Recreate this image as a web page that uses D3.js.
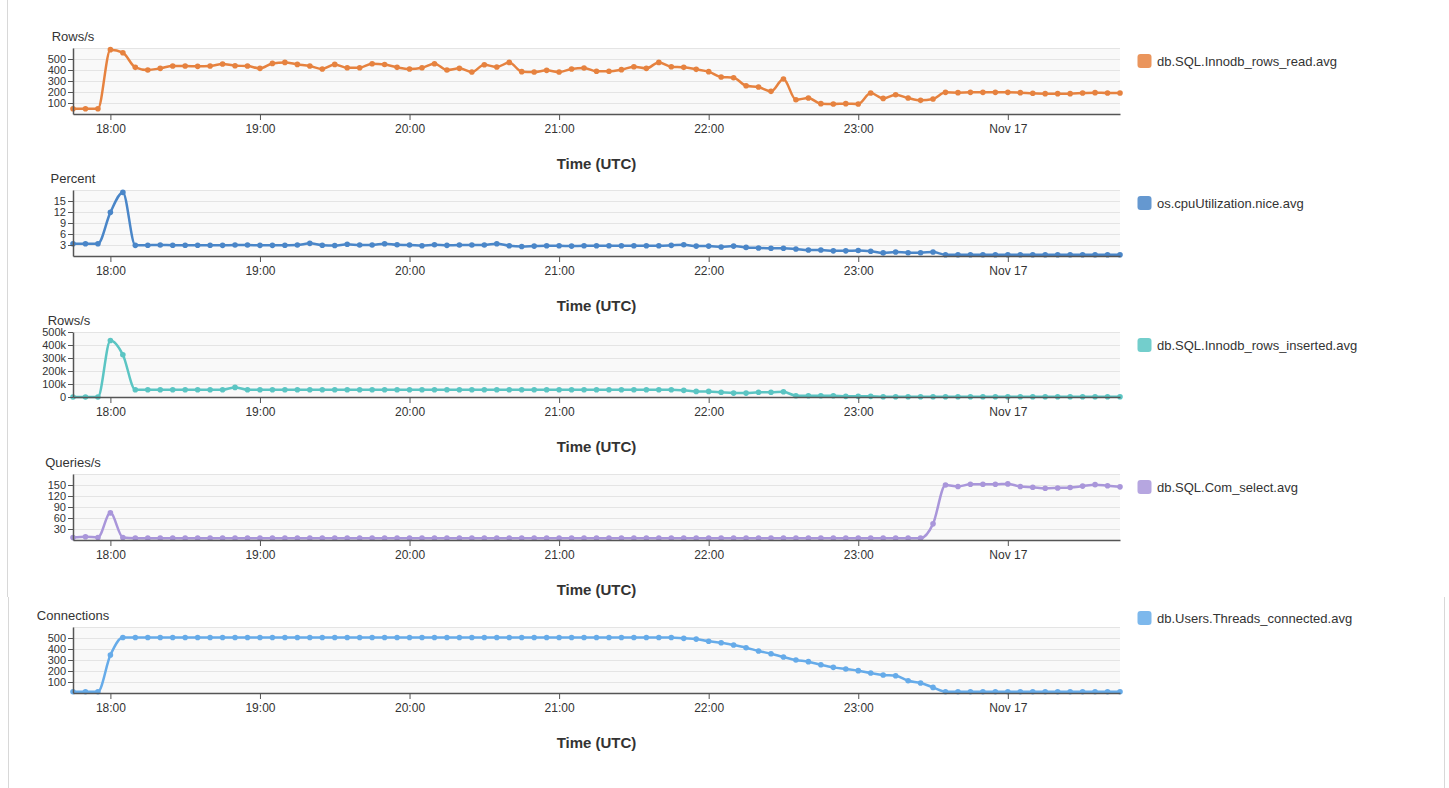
<!DOCTYPE html>
<html>
<head>
<meta charset="utf-8">
<script src="https://cdn.jsdelivr.net/npm/d3@7"></script>
<style>
  body { margin: 0; background: #fff; }
  svg { display: block; font-family: "Liberation Sans", Arial, Helvetica, sans-serif; }
  .tick text { fill: #333; font-size: 12px; }
  .y-axis .tick text { font-size: 11px; }
  .domain { stroke: #555; stroke-width: 1.5; }
  .tick line { stroke: #555; }
</style>
</head>
<body>
<svg width="1449" height="788"></svg>
<script>
// 5-minute samples, Nov 16 17:45 UTC .. Nov 17 00:45 UTC
const startTime = Date.UTC(2020, 10, 16, 17, 45)
const times = d3.range(85).map(i => new Date(startTime + i * 5 * 60 * 1000))

const rowsRead = [48, 48, 48, 585, 557, 424, 400, 415, 436, 436,
  433, 436, 455, 439, 436, 415, 460, 469, 451, 436,
  409, 451, 421, 421, 457, 450, 424, 409, 421, 457,
  400, 415, 382, 448, 427, 469, 385, 382, 397, 382,
  409, 418, 388, 388, 403, 430, 415, 469, 430, 424,
  406, 385, 336, 330, 257, 245, 206, 318, 130, 145,
  94, 91, 94, 91, 191, 142, 175, 145, 124, 136,
  197, 194, 197, 197, 197, 197, 194, 188, 185, 185,
  185, 191, 194, 191, 191]

const cpuNice = [3.35, 3.35, 3.35, 11.9, 17.35, 2.9, 2.95, 3.0, 2.95, 2.95,
  2.95, 2.95, 2.9, 3.0, 3.0, 2.9, 2.9, 2.95, 3.0, 3.45,
  2.95, 2.85, 3.2, 3.0, 3.0, 3.35, 3.05, 3.0, 2.8, 3.05,
  2.9, 3.0, 3.0, 3.0, 3.35, 2.8, 2.6, 2.7, 2.8, 2.8,
  2.7, 2.8, 2.8, 2.8, 2.8, 2.8, 2.8, 2.8, 2.9, 3.05,
  2.7, 2.7, 2.45, 2.7, 2.35, 2.2, 2.1, 2.1, 1.9, 1.65,
  1.65, 1.4, 1.4, 1.5, 1.3, 0.85, 1.1, 0.9, 0.9, 1.1,
  0.35, 0.35, 0.35, 0.35, 0.35, 0.35, 0.35, 0.35, 0.35, 0.35,
  0.35, 0.35, 0.35, 0.35, 0.35]

const rowsInserted = [0, 0, 0, 435000, 325000, 56000, 56000, 56000, 56000, 56000,
  56000, 56000, 56000, 74000, 56000, 56000, 56000, 56000, 56000, 56000,
  56000, 56000, 56000, 56000, 56000, 56000, 56000, 56000, 56000, 56000,
  56000, 56000, 56000, 56000, 56000, 56000, 56000, 56000, 56000, 56000,
  56000, 56000, 56000, 56000, 56000, 56000, 56000, 56000, 56000, 51000,
  43000, 43000, 36000, 30000, 30000, 36000, 36000, 40000, 10000, 10000,
  10000, 10000, 5000, 5000, 5000, 2000, 2000, 2000, 2000, 2000,
  2000, 2000, 2000, 2000, 2000, 2000, 2000, 2000, 2000, 2000,
  2000, 2000, 2000, 2000, 2000]

const comSelect = [7, 9, 7, 74, 7, 5, 5, 5, 5, 5,
  5, 5, 5, 5, 5, 5, 5, 5, 5, 5,
  5, 5, 5, 5, 5, 5, 5, 5, 5, 5,
  5, 5, 5, 5, 5, 5, 5, 5, 5, 5,
  5, 5, 5, 5, 5, 5, 5, 5, 5, 5,
  5, 5, 5, 5, 5, 5, 5, 5, 5, 5,
  5, 5, 5, 5, 5, 5, 5, 5, 5, 44,
  150, 146, 152, 152, 152, 153, 146, 144, 141, 142,
  143, 147, 151, 148, 145]

const threadsConnected = [12, 12, 12, 345, 505, 505, 505, 505, 505, 505,
  505, 505, 505, 505, 505, 505, 505, 505, 505, 505,
  505, 505, 505, 505, 505, 505, 505, 505, 505, 505,
  505, 505, 505, 505, 505, 505, 505, 505, 505, 505,
  505, 505, 505, 505, 505, 505, 505, 505, 505, 497,
  490, 470, 457, 436, 412, 382, 357, 327, 300, 285,
  257, 233, 218, 203, 182, 164, 157, 112, 91, 51,
  12, 12, 12, 12, 12, 12, 12, 12, 12, 12,
  12, 12, 12, 12, 12]

const seriesNames = ["db.SQL.Innodb_rows_read.avg", "os.cpuUtilization.nice.avg",
  "db.SQL.Innodb_rows_inserted.avg", "db.SQL.Com_select.avg", "db.Users.Threads_connected.avg"]
const unitLabels = ["Rows/s", "Percent", "Rows/s", "Queries/s", "Connections"]
const yMax = [600, 18, 500000, 180, 600]
const yTicks = [
  [100, 200, 300, 400, 500],
  [3, 6, 9, 12, 15],
  [0, 100000, 200000, 300000, 400000, 500000],
  [30, 60, 90, 120, 150],
  [100, 200, 300, 400, 500]
]
const colors = ["#e6823f", "#4a86c8", "#5bc5c3", "#a996da", "#66abe9"]
const allValues = [rowsRead, cpuNice, rowsInserted, comSelect, threadsConnected]

const svg = d3.select("svg")

// page card borders
svg.append("line").attr("x1", 7.5).attr("x2", 7.5).attr("y1", 0).attr("y2", 597)
  .attr("stroke", "#d8d8d8")
svg.append("line").attr("x1", 8.5).attr("x2", 8.5).attr("y1", 597).attr("y2", 788)
  .attr("stroke", "#d8d8d8")
svg.append("line").attr("x1", 1444.5).attr("x2", 1444.5).attr("y1", 597).attr("y2", 788)
  .attr("stroke", "#d8d8d8")

const plotLeft = 73, plotRight = 1120
const panelTop = [48, 190, 332, 474, 627]
const panelHeight = [66, 66, 65, 66, 66]
const legendY = [61, 203, 345, 487, 618]
const unitX = [73, 73, 69, 73, 73]

const x = d3.scaleUtc()
  .domain([times[0], times[times.length - 1]])
  .range([plotLeft, plotRight])

const fmtHour = d3.utcFormat("%H:%M")
const fmtDay = d3.utcFormat("%b %d")
const tickFmt = d => (d.getUTCHours() === 0 ? fmtDay(d) : fmtHour(d))

allValues.forEach(function(vals, k) {
  const top = panelTop[k], h = panelHeight[k]
  const y = d3.scaleLinear().domain([0, yMax[k]]).range([top + h, top])
  const g = svg.append("g")
  const data = vals.map((v, i) => ({ t: times[i], v: v }))

  g.append("rect")
    .attr("x", plotLeft).attr("y", top)
    .attr("width", plotRight - plotLeft).attr("height", h)
    .attr("fill", "#f9f9f9")

  // grid
  g.selectAll(".grid")
    .data(yTicks[k].concat([yMax[k]]))
    .join("line")
    .attr("x1", plotLeft).attr("x2", plotRight)
    .attr("y1", d => Math.round(y(d)) + 0.5).attr("y2", d => Math.round(y(d)) + 0.5)
    .attr("stroke", "#e4e4e4")

  const line = d3.line()
    .x(d => x(d.t))
    .y(d => y(d.v))
    .curve(d3.curveMonotoneX)

  g.append("path")
    .datum(data)
    .attr("fill", "none")
    .attr("stroke", colors[k])
    .attr("stroke-width", 2.5)
    .attr("d", line)

  g.selectAll(".dot")
    .data(data)
    .join("circle")
    .attr("cx", d => x(d.t))
    .attr("cy", d => y(d.v))
    .attr("r", 2.8)
    .attr("fill", colors[k])

  const yAxis = d3.axisLeft(y)
    .tickValues(yTicks[k])
    .tickSize(5)
    .tickSizeOuter(0)
    .tickPadding(2)
    .tickFormat(k === 2 ? d3.format("~s") : d3.format("d"))
  g.append("g")
    .attr("class", "y-axis")
    .attr("transform", `translate(${plotLeft},0)`)
    .call(yAxis)

  const xAxis = d3.axisBottom(x)
    .ticks(d3.utcHour.every(1))
    .tickSize(6)
    .tickSizeOuter(0)
    .tickPadding(4)
    .tickFormat(tickFmt)
  g.append("g")
    .attr("transform", `translate(0,${top + h})`)
    .call(xAxis)

  g.append("text")
    .attr("x", unitX[k]).attr("y", top - 7.5)
    .attr("text-anchor", "middle")
    .attr("font-size", 13)
    .attr("fill", "#333")
    .text(unitLabels[k])

  g.append("text")
    .attr("x", (plotLeft + plotRight) / 2).attr("y", top + h + 55)
    .attr("text-anchor", "middle")
    .attr("font-size", 15)
    .attr("font-weight", "bold")
    .attr("fill", "#333")
    .text("Time (UTC)")

  // legend
  g.append("rect")
    .attr("x", 1137.5).attr("y", legendY[k] - 7)
    .attr("width", 14).attr("height", 14)
    .attr("rx", 3)
    .attr("fill", colors[k])
    .attr("fill-opacity", 0.85)
  g.append("text")
    .attr("x", 1157).attr("y", legendY[k] + 4.5)
    .attr("font-size", 13)
    .attr("fill", "#333")
    .text(seriesNames[k])
})
</script>
</body>
</html>
